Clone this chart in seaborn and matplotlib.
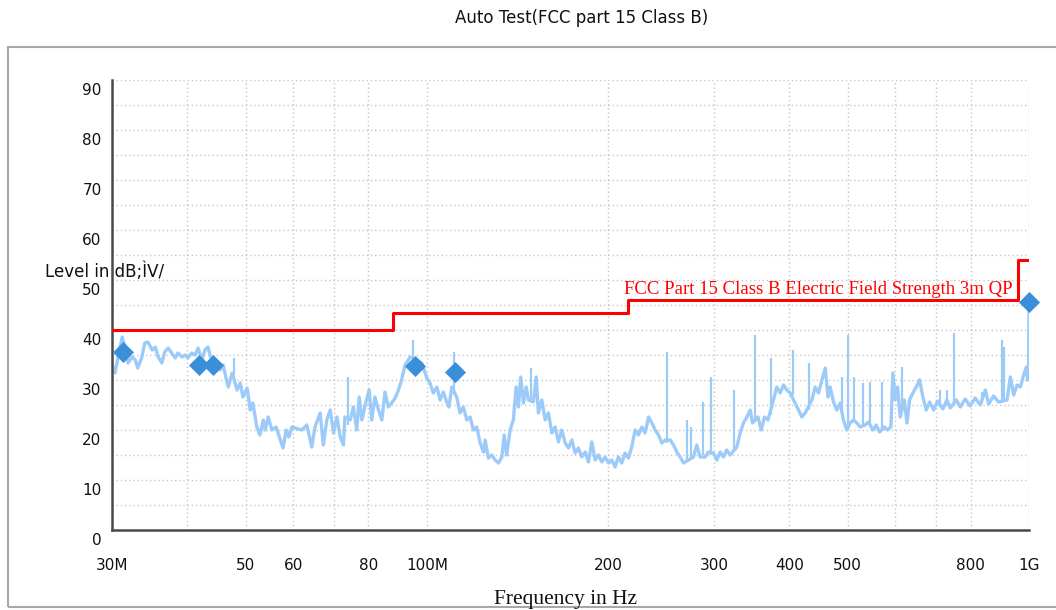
"""EMC pre-scan plot: FCC part 15 class B radiated emission, 30 MHz - 1 GHz."""
import matplotlib
matplotlib.use('Agg')
import matplotlib.pyplot as plt
from matplotlib.patches import Rectangle
from matplotlib.ticker import FixedLocator, MultipleLocator, NullLocator
from matplotlib.transforms import ScaledTranslation
import pandas as pd
import seaborn as sns

trace_freq = [
    30.0, 30.35, 30.7, 31.2, 31.5, 31.9, 32.4, 32.8, 33.1, 33.6, 34.0, 34.4, 35.0, 35.4, 35.8,
    36.3, 36.7, 37.2, 37.7, 38.2, 38.6, 39.2, 39.7, 40.1, 40.7, 41.2, 41.7, 42.3, 42.8, 43.3,
    44.0, 44.8, 45.4, 45.9, 46.4, 46.8, 47.5, 48.4, 49.0, 49.5, 50.3, 50.9, 51.4, 52.2, 52.8,
    53.5, 53.9, 54.5, 55.3, 56.2, 57.1, 57.7, 58.4, 59.0, 59.7,
    60.4, 62.0, 63.2, 64.4, 65.2, 66.5, 67.3, 68.2, 69.1, 70.0, 70.9, 71.8, 72.7, 73.1, 74.6,
    75.5, 76.5, 77.2, 78.0, 79.0, 80.2, 81.0, 82.0, 83.1, 84.2, 85.2, 86.3, 87.4, 88.6, 89.7,
    90.8, 92.0, 93.8, 96.2, 98.1, 100.0, 101.2, 102.5, 103.9, 105.2, 106.5, 107.9, 108.8, 110.0,
    112.1, 113.5, 115.0, 116.5, 118.0, 119.5, 121.0, 122.6, 124.2,
    125.0, 126.5, 128.2, 129.8, 131.5, 133.2, 134.4, 135.7, 137.5, 139.2, 140.7, 141.9, 143.2,
    144.7, 146.2, 147.5, 150.3, 151.9, 153.2, 155.2, 157.2, 159.2, 161.3, 163.3, 165.4, 167.5,
    169.7, 171.9, 174.1, 176.3, 178.5, 180.8, 183.2, 185.5, 187.9, 190.3, 192.7, 195.2, 197.7,
    200.3, 202.8, 205.4, 208.0, 210.7, 213.4, 216.2, 218.9, 221.8, 224.6, 227.5, 230.4, 233.4,
    236.4, 239.4, 242.5, 245.6, 248.8,
    253.6, 256.8, 260.1, 263.4, 266.8, 272.0, 277.2, 280.7, 284.3, 289.8, 293.5, 299.2, 303.1,
    306.9, 310.8, 314.8, 318.9, 327.2, 331.4, 335.6, 340.0, 344.4, 347.4, 354.7, 359.2, 363.8,
    368.5, 376.4, 381.2, 386.1, 391.1, 396.1, 401.2, 408.9, 414.1, 419.5, 424.9, 435.9, 441.5,
    447.2, 453.0, 458.8, 463.6, 467.5, 473.5, 479.6, 485.8, 491.8, 498.2, 504.5, 510.9,
    517.8, 524.4, 534.5, 541.3, 550.5, 557.5, 564.6, 574.8, 582.2, 589.7, 594.2, 599.6, 604.9,
    611.2, 620.6, 627.1, 633.4, 641.5, 649.7, 658.1, 666.5, 675.1, 683.9, 694.4, 705.1, 719.5,
    730.6, 739.9, 757.1, 768.7, 783.5, 798.6, 814.2, 830.0, 846.1, 856.9, 873.4, 890.4, 919.4,
    931.2, 943.1, 955.3, 967.5, 979.9, 990.0, 995.0, 998.6, 1000.0,
]
trace_level = [
    33.0, 31.4, 34.6, 38.6, 36.6, 33.4, 34.6, 34.0, 32.4, 34.4, 37.4, 37.6, 36.0, 36.6, 34.6,
    33.4, 35.6, 36.4, 35.4, 34.4, 35.4, 34.6, 35.0, 34.4, 35.4, 35.0, 36.4, 34.0, 36.0, 36.6,
    33.4, 32.6, 32.0, 33.0, 30.4, 28.6, 31.4, 28.0, 29.4, 26.6, 28.4, 24.0, 25.4, 20.6, 19.0,
    22.0, 20.0, 22.6, 20.0, 20.6, 18.0, 16.4, 20.0, 18.6, 20.6,
    20.4, 20.0, 21.0, 16.6, 20.6, 23.4, 17.0, 22.0, 24.0, 19.4, 22.6, 18.6, 17.0, 22.6, 22.0,
    24.6, 20.0, 26.6, 22.0, 25.0, 28.0, 22.0, 26.6, 24.0, 22.0, 27.6, 24.6, 25.4, 26.4, 28.0,
    30.0, 33.0, 34.6, 34.0, 33.4, 30.4, 29.4, 27.4, 28.6, 26.0, 27.6, 25.6, 24.6, 28.6,
    26.6, 23.4, 24.6, 22.0, 22.6, 20.0, 20.6, 17.4, 15.6,
    18.0, 14.4, 15.0, 14.0, 13.4, 14.6, 19.0, 15.0, 20.0, 22.0, 28.6, 24.6, 30.6,
    25.4, 28.6, 26.0, 25.6, 30.6, 23.4, 26.0, 22.0, 23.4, 19.4, 20.6, 17.6, 20.0,
    17.4, 16.4, 18.0, 15.4, 16.4, 14.6, 15.6, 13.6, 17.6, 14.0, 15.0, 13.6, 14.6,
    13.4, 14.0, 12.6, 14.6, 13.4, 15.4, 14.4, 16.6, 20.0, 19.0, 20.6, 19.4, 22.6,
    21.4, 20.0, 19.0, 17.4, 18.0,
    18.0, 17.0, 15.6, 14.6, 13.4, 14.0, 14.6, 17.0, 14.6, 14.6, 15.6, 15.4, 14.0,
    15.6, 14.6, 16.0, 15.0, 16.6, 19.4, 21.4, 22.6, 24.0, 21.4, 22.6, 20.0, 22.6,
    22.0, 26.0, 28.6, 27.4, 29.0, 28.0, 27.4, 25.4, 24.0, 22.6, 23.4, 26.0, 28.6,
    27.4, 30.0, 32.4, 26.6, 28.6, 25.6, 24.0, 25.4, 22.0, 20.0, 21.4, 22.0,
    21.4, 20.6, 21.0, 21.6, 20.0, 21.0, 19.6, 20.6, 20.0, 20.6, 31.4, 26.0, 28.6,
    22.6, 26.0, 21.4, 26.0, 27.4, 28.6, 30.0, 26.6, 24.0, 25.6, 24.0, 25.8, 24.2,
    26.0, 24.4, 26.0, 24.6, 26.2, 24.8, 26.4, 25.0, 28.0, 25.2, 26.8, 25.6, 26.0,
    30.6, 27.0, 29.0, 28.6, 31.0, 32.6, 30.0, 33.0, 45.6,
]

# narrow spurs sticking out of the trace
spike_freq = [47.8, 74.1, 95.0, 111.1, 148.8, 250.4, 270.2, 274.8, 287.3, 296.6, 324.2, 351.0,
              373.1, 405.3, 431.4, 488.8, 500.1, 513.0, 529.9, 544.8, 569.7, 615.1, 712.2,
              731.0, 749.3, 836.0, 901.9, 909.9]
spike_top = [34.4, 30.6, 38.0, 35.6, 32.4, 35.6, 22.0, 20.6, 25.6, 30.6, 28.0, 39.0,
             34.4, 36.0, 33.4, 30.6, 39.0, 30.6, 29.4, 29.6, 29.6, 32.6, 28.0,
             28.0, 39.4, 27.6, 38.0, 36.6]
spike_base = [30.0, 21.0, 34.0, 27.0, 26.0, 17.5, 14.0, 14.5, 15.0, 15.0, 16.0, 22.0,
              23.0, 27.0, 24.0, 24.0, 21.0, 22.0, 21.0, 21.0, 20.0, 24.0, 24.6,
              25.0, 25.0, 25.4, 26.0, 26.0]

# final measurement points
peak_freq = [31.3, 41.9, 44.1, 95.4, 111.4, 1000.0]
peak_level = [35.6, 33.0, 33.0, 32.8, 31.6, 45.6]

# FCC part 15 class B, 3 m, quasi-peak
limit_freq = [30, 88, 216, 960, 1000]
limit_level = [40.0, 43.5, 46.0, 54.0, 54.0]

xtick_freq = [30, 40, 50, 60, 70, 80, 100, 200, 300, 400, 500, 600, 700, 800, 1000]
xtick_text = ['30M', '', '50', '60', '', '80', '100M', '200', '300', '400', '500', '', '', '800', '1G']
ytick_level = [0, 10, 20, 30, 40, 50, 60, 70, 80, 90]

TRACE_COLOR = '#9ccbfa'
PEAK_COLOR = '#3b8fd9'
AXIS_COLOR = '#4a4a4a'

sns.set_style('white')
plt.rcParams['font.family'] = ['DejaVu Sans']

fig = plt.figure(figsize=(10.56, 6.10), dpi=100)
ax = fig.add_axes([112 / 1056, 80 / 610, 917 / 1056, 450 / 610])

trace = pd.DataFrame({'freq': trace_freq, 'level': trace_level})
sns.lineplot(data=trace, x='freq', y='level', estimator=None, sort=False,
             color=TRACE_COLOR, lw=2.4, ax=ax, zorder=2)
ax.vlines(spike_freq, spike_base, spike_top, color=TRACE_COLOR, lw=1.6, zorder=2)

sns.lineplot(x=limit_freq, y=limit_level, estimator=None, drawstyle='steps-post',
             color='#ff0000', lw=2.2, ax=ax, zorder=3)

sns.scatterplot(x=peak_freq, y=peak_level, marker='D', s=115, color=PEAK_COLOR,
                linewidth=0, ax=ax, zorder=5, clip_on=False)

ax.text(941, 47.2, 'FCC Part 15 Class B Electric Field Strength 3m QP', color='#ff0000',
        family='Liberation Serif', fontsize=13.5, ha='right', va='baseline', zorder=4)

ax.set_xscale('log')
ax.set_xlim(30, 1000)
ax.set_ylim(0, 90)
ax.xaxis.set_major_locator(FixedLocator(xtick_freq))
ax.xaxis.set_minor_locator(NullLocator())
ax.set_xticks(xtick_freq, xtick_text)
ax.yaxis.set_major_locator(FixedLocator(ytick_level))
ax.yaxis.set_minor_locator(MultipleLocator(5))
ax.set_xlabel('')
ax.set_ylabel('')

grid_kw = dict(color='#c6c6c6', linestyle=(0, (1, 2)), linewidth=1.0)
ax.grid(True, axis='y', which='both', **grid_kw)
ax.grid(True, axis='x', which='major', **grid_kw)
ax.set_axisbelow(True)

for side in ('top', 'right'):
    ax.spines[side].set_visible(False)
for side in ('left', 'bottom'):
    ax.spines[side].set_color(AXIS_COLOR)
    ax.spines[side].set_linewidth(1.8)

ax.tick_params(axis='both', which='both', direction='inout', length=7, width=1.4,
               color=AXIS_COLOR, labelsize=11, labelcolor='#111111')
ax.tick_params(axis='y', which='both', pad=4)
ax.tick_params(axis='x', which='major', pad=17)

# the y labels sit a little under their tick
shift = ScaledTranslation(0, -9 / 100, fig.dpi_scale_trans)
for tick in ax.yaxis.get_major_ticks():
    tick.label1.set_transform(tick.label1.get_transform() + shift)

fig.add_artist(Rectangle((8 / 1056, 3 / 610), 1.0, 560 / 610, transform=fig.transFigure,
                         fill=False, edgecolor='#a8a8a8', lw=1.5))

fig.text(582 / 1056, 1 - 18 / 610, 'Auto Test(FCC part 15 Class B)', ha='center', va='center',
         fontsize=12, color='#111111')
fig.text(45 / 1056, 1 - 272 / 610, 'Level in dB;ÌV/', ha='left', va='center',
         fontsize=12, color='#111111')
fig.text(565 / 1056, 6 / 610, 'Frequency in Hz', ha='center', va='baseline',
         family='Liberation Serif', fontsize=15.5, color='#111111')

fig.savefig('out.png', dpi=100)
